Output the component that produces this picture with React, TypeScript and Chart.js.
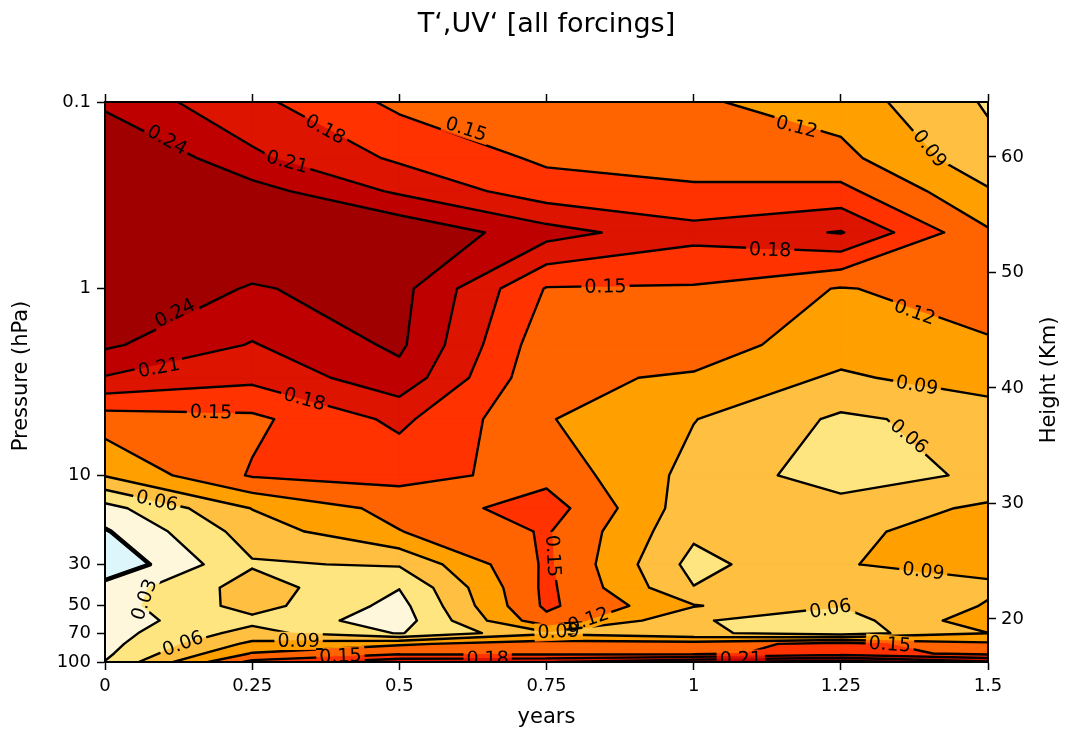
import React, { useEffect, useRef } from "react";
import { Chart, registerables } from "chart.js";

Chart.register(...registerables);

// ---------------- data ----------------
const years = [0, 0.25, 0.5, 0.75, 1, 1.25, 1.5];
const pressures = [0.1, 0.2, 0.3, 0.5, 1, 2, 3, 5, 10, 15, 20, 30, 40, 50, 60, 70, 80, 90, 100];

// T' anomaly at each pressure level (one value per year column)
const tAt0p1 = [0.232, 0.1876, 0.143, 0.135, 0.1238, 0.1057, 0.0565];
const tAt0p2 = [0.28, 0.216, 0.175, 0.145, 0.137, 0.1288, 0.0695];
const tAt0p3 = [0.29, 0.252, 0.205, 0.163, 0.155, 0.158, 0.093];
const tAt0p5 = [0.28, 0.26, 0.265, 0.222, 0.19, 0.212, 0.1237];
const tAt1 = [0.26, 0.238, 0.25, 0.148, 0.147, 0.118, 0.135];
const tAt2 = [0.245, 0.208, 0.2458, 0.13, 0.133, 0.105, 0.1167];
const tAt3 = [0.208, 0.1875, 0.2296, 0.125, 0.117, 0.085, 0.106];
const tAt5 = [0.135, 0.1435, 0.187, 0.122, 0.091, 0.055, 0.071];
const tAt10 = [0.092, 0.153, 0.16, 0.14, 0.08, 0.045, 0.0655];
const tAt15 = [0.019, 0.091, 0.13, 0.165, 0.072, 0.072, 0.0954];
const tAt20 = [-0.003, 0.074, 0.119, 0.153, 0.066, 0.0855, 0.1];
const tAt30 = [-0.025, 0.057, 0.063, 0.155, 0.05, 0.089, 0.097];
const tAt40 = [0.012, 0.0736, 0.031, 0.157, 0.061, 0.075, 0.0859];
const tAt50 = [0.016, 0.072, 0.02, 0.156, 0.092, 0.061, 0.092];
const tAt60 = [0.017, 0.052, 0.015, 0.141, 0.0624, 0.045, 0.11];
const tAt70 = [0.018, 0.071, 0.028, 0.085, 0.0655, 0.045, 0.0895];
const tAt80 = [0.02, 0.097, 0.116, 0.134, 0.134, 0.162, 0.125];
const tAt90 = [0.024, 0.122, 0.145, 0.142, 0.142, 0.165, 0.141];
const tAt100 = [0.031, 0.158, 0.202, 0.208, 0.236, 0.255, 0.214];

const field = [tAt0p1, tAt0p2, tAt0p3, tAt0p5, tAt1, tAt2, tAt3, tAt5, tAt10, tAt15, tAt20, tAt30, tAt40, tAt50, tAt60, tAt70, tAt80, tAt90, tAt100];

const contourLevels = [0, 0.03, 0.06, 0.09, 0.12, 0.15, 0.18, 0.21, 0.24];
const bandColors = ["#dcf6fb", "#fff7dc", "#ffe57f", "#ffbf40", "#ff9f00", "#ff6400", "#ff3200", "#dc1400", "#be0000", "#a00000"];

const yearTicks = [0, 0.25, 0.5, 0.75, 1, 1.25, 1.5];
const pressureTicks = [0.1, 1, 10, 30, 50, 70, 100];
const heightTicks = [20, 30, 40, 50, 60];

// contour labels: level, approximate year, approximate pressure
const labelLevels = [0.24, 0.21, 0.18, 0.15, 0.12, 0.09, 0.18, 0.15, 0.12, 0.24, 0.21, 0.18, 0.15, 0.09, 0.06, 0.06, 0.03, 0.06, 0.15, 0.12, 0.09, 0.09, 0.06, 0.18, 0.21, 0.15, 0.09, 0.15];
const labelYears = [0.11, 0.32, 0.38, 0.61, 1.18, 1.42, 1.13, 0.85, 1.38, 0.12, 0.09, 0.34, 0.18, 1.38, 1.36, 0.09, 0.072, 0.13, 0.77, 0.82, 0.77, 1.39, 1.23, 0.65, 1.08, 1.33, 0.33, 0.4];
const labelPressures = [0.15, 0.18, 0.13, 0.15, 0.12, 0.16, 0.62, 0.93, 1.22, 1.38, 2.5, 3.8, 4.5, 3.2, 6.5, 12.9, 47, 76, 27, 58, 66, 33, 49.5, 94, 94, 88, 70, 95];

const SCALE_HEIGHT = 7.02;
const SURFACE_P = 1015;
const heightOf = (p: number) => SCALE_HEIGHT * Math.log(SURFACE_P / p);

const FONT = "'DejaVu Sans', 'Liberation Sans', sans-serif";

// ---------------- marching-squares helpers ----------------
type Pt = [number, number];
type Constraint = { a: Pt; b: Pt; keep: Pt };
type Piece = Constraint[];
type LevelCut = { above: Piece[]; below: Piece[]; segs: [Pt, Pt][] };

function offLevel(x: number) {
  for (const L of contourLevels) if (Math.abs(x - L) < 1e-7) return x + 2e-6;
  return x;
}

function cutCell(c: Pt[], v: number[], m: Pt, mv: number, L: number): LevelCut {
  const ab = v.map((x) => x >= L);
  const n = ab.filter(Boolean).length;
  if (n === 4) return { above: [[]], below: [], segs: [] };
  if (n === 0) return { above: [], below: [[]], segs: [] };
  const X: (Pt | null)[] = [0, 1, 2, 3].map((k) => {
    const k2 = (k + 1) % 4;
    if (ab[k] === ab[k2]) return null;
    const t = (L - v[k]) / (v[k2] - v[k]);
    return [c[k][0] + t * (c[k2][0] - c[k][0]), c[k][1] + t * (c[k2][1] - c[k][1])] as Pt;
  });
  let hiK = -1, loK = -1;
  for (let k = 0; k < 4; k++) {
    if (ab[k] && (hiK < 0 || v[k] > v[hiK])) hiK = k;
    if (!ab[k] && (loK < 0 || v[k] < v[loK])) loK = k;
  }
  const saddle = n === 2 && ab[0] === ab[2];
  if (!saddle) {
    const idx = [0, 1, 2, 3].filter((k) => X[k]);
    const p = X[idx[0]]!, q = X[idx[1]]!;
    return { above: [[{ a: p, b: q, keep: c[hiK] }]], below: [[{ a: p, b: q, keep: c[loK] }]], segs: [[p, q]] };
  }
  const centerAbove = mv >= L;
  const iso = [0, 1, 2, 3].filter((k) => ab[k] !== centerAbove);
  const cuts = iso.map((k) => ({ a: X[(k + 3) % 4]!, b: X[k]!, corner: c[k] }));
  const connected: Piece = cuts.map((ct) => ({ a: ct.a, b: ct.b, keep: m }));
  const isolated: Piece[] = cuts.map((ct) => [{ a: ct.a, b: ct.b, keep: ct.corner }]);
  const segs = cuts.map((ct) => [ct.a, ct.b] as [Pt, Pt]);
  return centerAbove ? { above: [connected], below: isolated, segs } : { above: isolated, below: [connected], segs };
}

function clipPoly(poly: Pt[], con: Constraint): Pt[] {
  const { a, b, keep } = con;
  const side = (p: Pt) => (b[0] - a[0]) * (p[1] - a[1]) - (b[1] - a[1]) * (p[0] - a[0]);
  const sgn = side(keep) >= 0 ? 1 : -1;
  const out: Pt[] = [];
  for (let i = 0; i < poly.length; i++) {
    const P = poly[i], Q = poly[(i + 1) % poly.length];
    const sp = side(P) * sgn, sq = side(Q) * sgn;
    if (sp >= 0) out.push(P);
    if ((sp >= 0) !== (sq >= 0)) {
      const t = sp / (sp - sq);
      out.push([P[0] + t * (Q[0] - P[0]), P[1] + t * (Q[1] - P[1])]);
    }
  }
  return out;
}

type Cell = { sq: Pt[]; cuts: LevelCut[] };

function buildCells(px: number[], py: number[]): Cell[] {
  const cells: Cell[] = [];
  for (let j = 0; j < py.length - 1; j++) {
    for (let i = 0; i < px.length - 1; i++) {
      const sq: Pt[] = [[px[i], py[j]], [px[i + 1], py[j]], [px[i + 1], py[j + 1]], [px[i], py[j + 1]]];
      const v = [field[j][i], field[j][i + 1], field[j + 1][i + 1], field[j + 1][i]].map(offLevel);
      const m: Pt = [(px[i] + px[i + 1]) / 2, (py[j] + py[j + 1]) / 2];
      const mv = (v[0] + v[1] + v[2] + v[3]) / 4;
      cells.push({ sq, cuts: contourLevels.map((L) => cutCell(sq, v, m, mv, L)) });
    }
  }
  return cells;
}

function makeEval(px: number[], py: number[]) {
  return (x: number, y: number) => {
    let i = 0;
    while (i < px.length - 2 && x > px[i + 1]) i++;
    let j = 0;
    while (j < py.length - 2 && y > py[j + 1]) j++;
    const u = Math.min(1, Math.max(0, (x - px[i]) / (px[i + 1] - px[i])));
    const v = Math.min(1, Math.max(0, (y - py[j]) / (py[j + 1] - py[j])));
    return field[j][i] * (1 - u) * (1 - v) + field[j][i + 1] * u * (1 - v) + field[j + 1][i] * (1 - u) * v + field[j + 1][i + 1] * u * v;
  };
}

const contourPlugin = {
  id: "contourFill",
  beforeDatasetsDraw(chart: any) {
    const { ctx, chartArea } = chart;
    const xs = chart.scales.x;
    const ys = chart.scales.y;
    const px = years.map((v) => xs.getPixelForValue(v));
    const py = pressures.map((v) => ys.getPixelForValue(v));
    const cells = buildCells(px, py);
    const evalF = makeEval(px, py);

    ctx.save();
    ctx.beginPath();
    ctx.rect(chartArea.left, chartArea.top, chartArea.right - chartArea.left, chartArea.bottom - chartArea.top);
    ctx.clip();

    // filled bands
    const nb = bandColors.length;
    for (let b = 0; b < nb; b++) {
      ctx.beginPath();
      for (const cell of cells) {
        const aboveSet: Piece[] = b === 0 ? [[]] : cell.cuts[b - 1].above;
        const belowSet: Piece[] = b === nb - 1 ? [[]] : cell.cuts[b].below;
        for (const pa of aboveSet) {
          for (const pb of belowSet) {
            let poly: Pt[] = cell.sq.slice();
            for (const con of [...pa, ...pb]) {
              poly = clipPoly(poly, con);
              if (poly.length < 3) break;
            }
            if (poly.length < 3) continue;
            ctx.moveTo(poly[0][0], poly[0][1]);
            for (let k = 1; k < poly.length; k++) ctx.lineTo(poly[k][0], poly[k][1]);
            ctx.closePath();
          }
        }
      }
      ctx.fillStyle = bandColors[b];
      ctx.fill();
      ctx.strokeStyle = bandColors[b];
      ctx.lineWidth = 1;
      ctx.lineJoin = "round";
      ctx.stroke();
    }

    // label placement (snapped onto their contour)
    const fontSize = 19;
    ctx.font = `${fontSize}px ${FONT}`;
    const placed: { x: number; y: number; ang: number; text: string; w: number }[] = [];
    for (let k = 0; k < labelLevels.length; k++) {
      const L = labelLevels[k];
      let x = xs.getPixelForValue(labelYears[k]);
      let y = ys.getPixelForValue(labelPressures[k]);
      const x0 = x, y0 = y;
      let gx = 0, gy = 0;
      for (let it = 0; it < 12; it++) {
        const f = evalF(x, y) - L;
        gx = (evalF(x + 1.5, y) - evalF(x - 1.5, y)) / 3;
        gy = (evalF(x, y + 1.5) - evalF(x, y - 1.5)) / 3;
        const g2 = gx * gx + gy * gy;
        if (g2 < 1e-14) break;
        let dx = (-f * gx) / g2, dy = (-f * gy) / g2;
        const dl = Math.hypot(dx, dy);
        if (dl > 6) { dx *= 6 / dl; dy *= 6 / dl; }
        x += dx; y += dy;
      }
      if (Math.abs(evalF(x, y) - L) > 0.003 || Math.hypot(x - x0, y - y0) > 40) continue;
      let ang = Math.atan2(gy, gx) + Math.PI / 2;
      while (ang > Math.PI / 2 + 1e-6) ang -= Math.PI;
      while (ang <= -Math.PI / 2 + 1e-6) ang += Math.PI;
      const text = L.toFixed(2);
      placed.push({ x, y, ang, text, w: ctx.measureText(text).width });
    }

    // contour lines with gaps under labels
    ctx.save();
    ctx.beginPath();
    ctx.rect(chartArea.left - 5, chartArea.top - 5, chartArea.right - chartArea.left + 10, chartArea.bottom - chartArea.top + 10);
    for (const lb of placed) {
      const hw = lb.w / 2 + 3, hh = fontSize * 0.48;
      const c = Math.cos(lb.ang), s = Math.sin(lb.ang);
      const corners = [[-hw, -hh], [hw, -hh], [hw, hh], [-hw, hh]].map(([a, b]) => [lb.x + a * c - b * s, lb.y + a * s + b * c]);
      ctx.moveTo(corners[0][0], corners[0][1]);
      for (let q = 1; q < 4; q++) ctx.lineTo(corners[q][0], corners[q][1]);
      ctx.closePath();
    }
    ctx.clip("evenodd");
    ctx.strokeStyle = "#000";
    ctx.lineCap = "round";
    ctx.lineJoin = "round";
    contourLevels.forEach((L, li) => {
      ctx.beginPath();
      for (const cell of cells) {
        for (const [p, q] of cell.cuts[li].segs) {
          ctx.moveTo(p[0], p[1]);
          ctx.lineTo(q[0], q[1]);
        }
      }
      ctx.lineWidth = L === 0 ? 4.5 : 2.4;
      ctx.stroke();
    });
    ctx.restore();

    // label text
    ctx.fillStyle = "#000";
    ctx.textAlign = "center";
    ctx.textBaseline = "middle";
    for (const lb of placed) {
      ctx.save();
      ctx.translate(lb.x, lb.y);
      ctx.rotate(lb.ang);
      ctx.fillText(lb.text, 0, 1);
      ctx.restore();
    }
    ctx.restore();
  },
  afterDraw(chart: any) {
    const { ctx, chartArea } = chart;
    const cx = (chartArea.left + chartArea.right) / 2;
    const cy = (chartArea.top + chartArea.bottom) / 2;
    ctx.save();
    ctx.fillStyle = "#000";
    ctx.textAlign = "center";
    ctx.textBaseline = "middle";
    ctx.font = `27px ${FONT}`;
    ctx.fillText("T‘,UV‘ [all forcings]", cx, 25);
    ctx.font = `21px ${FONT}`;
    ctx.fillText("years", cx, 718);
    ctx.save();
    ctx.translate(22, cy - 6);
    ctx.rotate(-Math.PI / 2);
    ctx.fillText("Pressure (hPa)", 0, 0);
    ctx.restore();
    ctx.save();
    ctx.translate(1050, cy - 2);
    ctx.rotate(-Math.PI / 2);
    ctx.fillText("Height (Km)", 0, 0);
    ctx.restore();
    ctx.restore();
  },
};

export default function App() {
  const canvasRef = useRef<HTMLCanvasElement | null>(null);

  useEffect(() => {
    const canvas = canvasRef.current;
    if (!canvas) return;
    const nodes: { x: number; y: number }[] = [];
    pressures.forEach((p) => years.forEach((t) => nodes.push({ x: t, y: p })));

    const tickFont = { family: FONT, size: 18 };
    const grid = { drawOnChartArea: false, drawTicks: true, tickLength: 8, tickWidth: 1.5, tickColor: "#000", color: "#000" };
    const border = { display: true, color: "#000", width: 2, z: 1 };

    const chart = new Chart(canvas, {
      type: "scatter",
      data: { datasets: [{ data: nodes, pointRadius: 0, showLine: false, xAxisID: "x", yAxisID: "y" }] },
      options: {
        responsive: false,
        animation: false,
        events: [],
        devicePixelRatio: 1,
        layout: { padding: 0 },
        plugins: { legend: { display: false }, tooltip: { enabled: false }, title: { display: false } },
        scales: {
          x: {
            type: "linear", position: "bottom", min: 0, max: 1.5,
            afterBuildTicks: (s: any) => { s.ticks = yearTicks.map((v) => ({ value: v })); },
            ticks: { font: tickFont, color: "#000", padding: 6, maxRotation: 0, autoSkip: false, callback: (v: any) => String(v) },
            grid, border,
            afterFit: (s: any) => { s.height = 70; },
          },
          xTop: {
            type: "linear", position: "top", min: 0, max: 1.5,
            afterBuildTicks: (s: any) => { s.ticks = yearTicks.map((v) => ({ value: v })); },
            ticks: { display: false },
            grid, border,
            afterFit: (s: any) => { s.height = 102; },
          },
          y: {
            type: "logarithmic", position: "left", reverse: true, min: 0.1, max: 100,
            afterBuildTicks: (s: any) => { s.ticks = pressureTicks.map((v) => ({ value: v })); },
            ticks: { font: tickFont, color: "#000", padding: 6, autoSkip: false, callback: (v: any) => String(v) },
            grid, border,
            afterFit: (s: any) => { s.width = 105; },
          },
          yH: {
            type: "linear", position: "right", min: heightOf(100), max: heightOf(0.1),
            afterBuildTicks: (s: any) => { s.ticks = heightTicks.map((v) => ({ value: v })); },
            ticks: { font: tickFont, color: "#000", padding: 5, autoSkip: false, callback: (v: any) => String(v) },
            grid, border,
            afterFit: (s: any) => { s.width = 78; },
          },
        },
      } as any,
      plugins: [contourPlugin],
    });
    return () => chart.destroy();
  }, []);

  return (
    <div style={{ position: "absolute", left: 0, top: 0, width: 1066, height: 732, background: "#fff" }}>
      <canvas ref={canvasRef} width={1066} height={732} style={{ display: "block" }} />
    </div>
  );
}
